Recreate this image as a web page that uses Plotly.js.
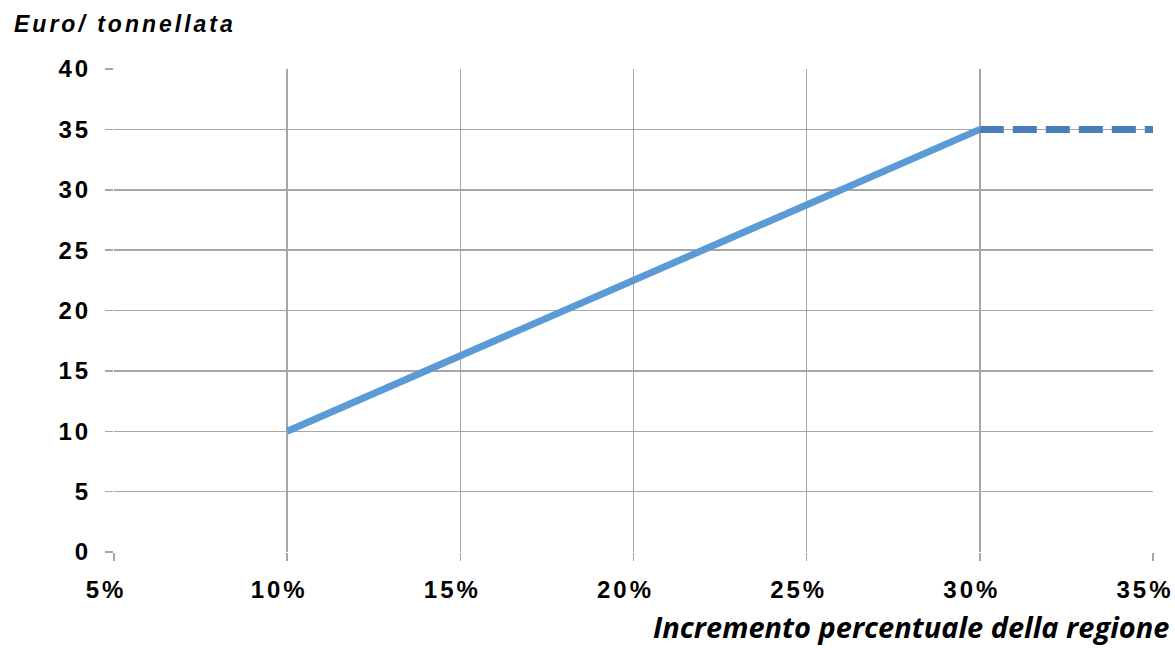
<!DOCTYPE html>
<html>
<head>
<meta charset="utf-8">
<script src="https://cdn.plot.ly/plotly-3.0.1.min.js"></script>
<style>
html,body{margin:0;padding:0;background:#fff;}
#chart{width:1175px;height:648px;}
.xtick text, .ytick text{letter-spacing:3px;}
.annotation[data-index="0"] text{letter-spacing:3px;}
</style>
</head>
<body>
<div id="chart"></div>
<script>
// Data
const solidX = [0.10, 0.30];
const solidY = [10, 35];
const capX = [0.30, 0.35];
const capY = [35, 35];
const xTicks = [0.05, 0.10, 0.15, 0.20, 0.25, 0.30, 0.35];
const xTickLabels = ['5%', '10%', '15%', '20%', '25%', '30%', '35%'];
const yTicks = [0, 5, 10, 15, 20, 25, 30, 35, 40];
const yTitle = 'Euro/ tonnellata';
const xTitle = 'Incremento percentuale della regione';

const traces = [
  {x: solidX, y: solidY, type: 'scatter', mode: 'lines',
   line: {color: '#5b9bd5', width: 7}, hoverinfo: 'skip', cliponaxis: true},
  {x: capX, y: capY, type: 'scatter', mode: 'lines',
   line: {color: '#4a7ebb', width: 7, dash: '24px,9px'}, hoverinfo: 'skip', cliponaxis: true}
];

const tickFont = {family: 'Liberation Sans, Arial, sans-serif', size: 24, color: '#000', weight: 'bold'};

const layout = {
  width: 1175, height: 648,
  margin: {l: 114, r: 22, t: 69, b: 96},
  paper_bgcolor: '#fff', plot_bgcolor: '#fff',
  showlegend: false,
  xaxis: {
    range: [0.05, 0.35], tickvals: xTicks, ticktext: xTickLabels,
    showgrid: true, gridcolor: '#a6a6a6', gridwidth: 1.5,
    zeroline: false, showline: false,
    ticks: 'outside', ticklen: 8, tickcolor: '#a6a6a6', tickwidth: 1.5,
    tickfont: tickFont, ticklabelstandoff: 8, ticklabeloverflow: 'allow',
    ticklabelshift: -8
  },
  yaxis: {
    range: [0, 40], tickvals: yTicks,
    showgrid: true, gridcolor: '#a6a6a6', gridwidth: 1.5,
    zeroline: false, showline: false,
    ticks: 'outside', ticklen: 8, tickcolor: '#a6a6a6', tickwidth: 1.5,
    tickfont: tickFont, ticklabelstandoff: 9, ticklabeloverflow: 'allow'
  },
  annotations: [
    {text: yTitle, xref: 'paper', yref: 'paper', x: (12 - 114) / 1039, xanchor: 'left', xshift: 24,
     y: 1, yanchor: 'bottom', yshift: 30, showarrow: false,
     font: {family: 'Liberation Sans, Arial, sans-serif', size: 23, color: '#000', style: 'italic', weight: 'bold'}},
    {text: xTitle, xref: 'paper', yref: 'paper', x: 1, xanchor: 'right', xshift: 17,
     y: 0, yanchor: 'top', yshift: -54, borderpad: 0, showarrow: false,
     font: {family: 'Open Sans, sans-serif', size: 29, color: '#000', style: 'italic', weight: 'bold'}}
  ]
};

Plotly.newPlot('chart', traces, layout, {displayModeBar: false, staticPlot: true});
</script>
</body>
</html>
